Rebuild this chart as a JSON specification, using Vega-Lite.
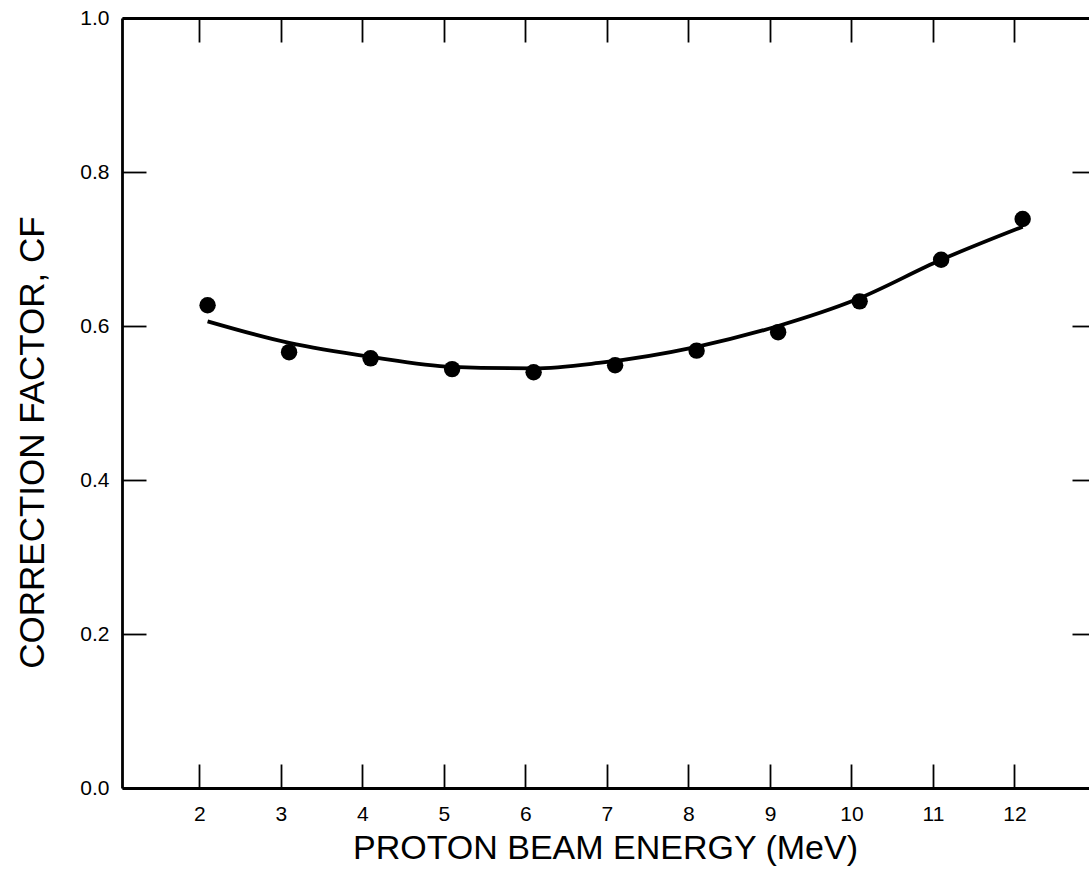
{
  "$schema": "https://vega.github.io/schema/vega-lite/v6.json",
  "width": 974,
  "height": 770,
  "autosize": "none",
  "padding": {"left": 122, "top": 18, "right": 0, "bottom": 89},
  "background": "white",
  "config": {
    "view": {"stroke": null},
    "axis": {
      "grid": false,
      "domainColor": "black",
      "tickColor": "black",
      "labelColor": "black",
      "titleColor": "black",
      "labelFont": "Liberation Sans",
      "titleFont": "Liberation Sans",
      "titleFontWeight": "normal",
      "domainWidth": 2.8,
      "tickWidth": 1.8
    }
  },
  "datasets": {
    "points": [
      {"energy": 2.1, "cf": 0.627},
      {"energy": 3.1, "cf": 0.566},
      {"energy": 4.1, "cf": 0.558},
      {"energy": 5.1, "cf": 0.544},
      {"energy": 6.1, "cf": 0.540},
      {"energy": 7.1, "cf": 0.549},
      {"energy": 8.1, "cf": 0.568},
      {"energy": 9.1, "cf": 0.592},
      {"energy": 10.1, "cf": 0.632},
      {"energy": 11.1, "cf": 0.686},
      {"energy": 12.1, "cf": 0.739}
    ],
    "curve": [
      {"energy": 2.1, "cf": 0.606},
      {"energy": 3.1, "cf": 0.578},
      {"energy": 4.1, "cf": 0.560},
      {"energy": 5.1, "cf": 0.547},
      {"energy": 6.1, "cf": 0.545},
      {"energy": 6.9, "cf": 0.552},
      {"energy": 8.1, "cf": 0.573},
      {"energy": 9.1, "cf": 0.600},
      {"energy": 10.05, "cf": 0.634},
      {"energy": 11.1, "cf": 0.686},
      {"energy": 12.1, "cf": 0.729}
    ]
  },
  "layer": [
    {
      "data": {"name": "curve"},
      "mark": {"type": "line", "interpolate": "monotone", "color": "black", "strokeWidth": 3.8},
      "encoding": {
        "x": {
          "field": "energy",
          "type": "quantitative",
          "scale": {"domain": [1.05, 13], "nice": false, "zero": false},
          "axis": {
            "orient": "bottom",
            "values": [2, 3, 4, 5, 6, 7, 8, 9, 10, 11, 12],
            "title": "PROTON BEAM ENERGY (MeV)",
            "tickSize": -24,
            "labelPadding": 39,
            "labelFontSize": 21,
            "labelBaseline": "top",
            "titleFontSize": 34,
            "titleBaseline": "alphabetic",
            "titleX": 483,
            "titleY": 70
          }
        },
        "y": {
          "field": "cf",
          "type": "quantitative",
          "scale": {"domain": [0, 1], "nice": false, "zero": false},
          "axis": {
            "orient": "left",
            "values": [0, 0.2, 0.4, 0.6, 0.8, 1.0],
            "format": ".1f",
            "title": "CORRECTION FACTOR, CF",
            "tickSize": -24,
            "labelPadding": 37,
            "labelFontSize": 21,
            "titleFontSize": 35,
            "titleAngle": -90,
            "titleBaseline": "alphabetic",
            "titleAlign": "center",
            "titleX": -79,
            "titleY": 424
          }
        }
      }
    },
    {
      "data": {"name": "points"},
      "mark": {"type": "circle", "color": "black", "opacity": 1, "size": 270},
      "encoding": {
        "x": {
          "field": "energy",
          "type": "quantitative",
          "scale": {"domain": [1.05, 13], "nice": false, "zero": false},
          "axis": {
            "orient": "top",
            "values": [2, 3, 4, 5, 6, 7, 8, 9, 10, 11, 12],
            "labels": false,
            "title": null,
            "tickSize": -24
          }
        },
        "y": {
          "field": "cf",
          "type": "quantitative",
          "scale": {"domain": [0, 1], "nice": false, "zero": false},
          "axis": {
            "orient": "right",
            "values": [0.2, 0.4, 0.6, 0.8],
            "labels": false,
            "title": null,
            "tickSize": -24
          }
        }
      }
    }
  ],
  "resolve": {"axis": {"x": "independent", "y": "independent"}}
}
